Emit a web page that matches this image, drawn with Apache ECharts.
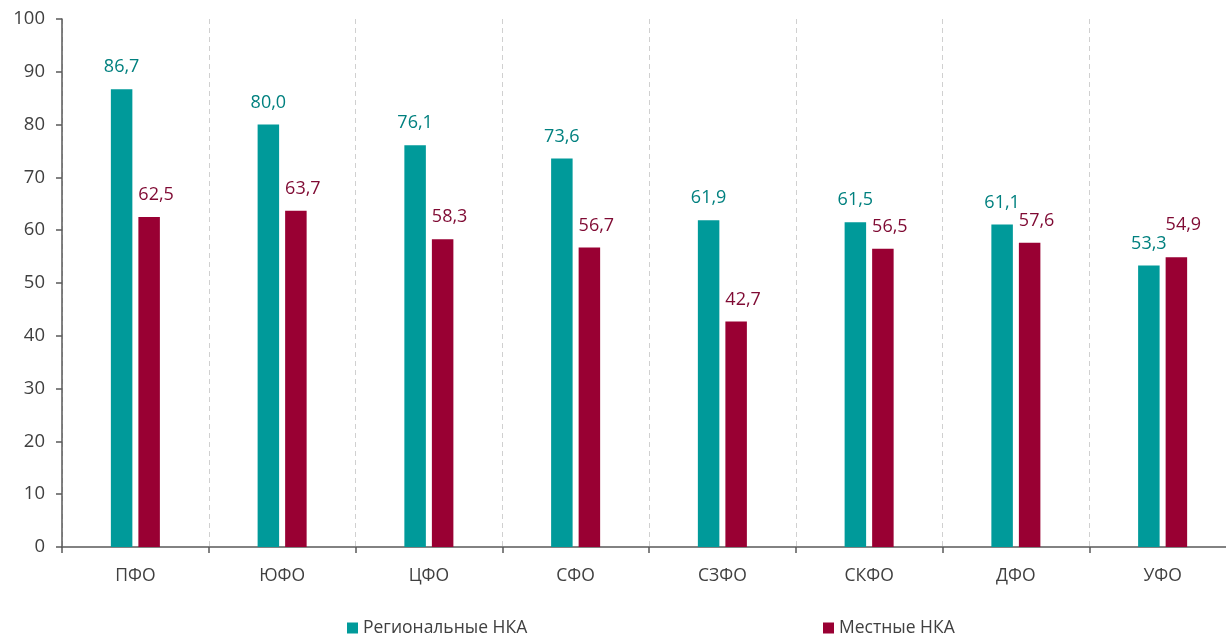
<!DOCTYPE html>
<html><head><meta charset="utf-8">
<script src="https://cdn.jsdelivr.net/npm/echarts@6/dist/echarts.min.js"></script>
<style>html,body{margin:0;padding:0;background:#fff;overflow:hidden}#c{width:1238px;height:634px}</style>
</head><body><div id="c"></div>
<script>
const categories = ['ПФО','ЮФО','ЦФО','СФО','СЗФО','СКФО','ДФО','УФО'];
const regional = [86.7, 80.0, 76.1, 73.6, 61.9, 61.5, 61.1, 53.3];
const local = [62.5, 63.7, 58.3, 56.7, 42.7, 56.5, 57.6, 54.9];
const seriesNames = ['Региональные НКА', 'Местные НКА'];
const yTicks = {min: 0, max: 100, interval: 10};

const FONT = '"Open Sans", sans-serif';
const fmt = p => p.value.toFixed(1).replace('.', ',');
// the last red label is lifted to avoid colliding with its neighbour (as in the original)
const localData = local.map((v, i) => i === local.length - 1 ? {value: v, label: {offset: [7, -10]}} : v);
const chart = echarts.init(document.getElementById('c'));
chart.setOption({
  animation: false,
  textStyle: {fontFamily: FONT},
  grid: {left: 62, width: 1174, top: 19, height: 528, containLabel: false},
  legend: [
    {data: [seriesNames[0]], left: 342, top: 614, itemWidth: 11, itemHeight: 11, icon: 'rect',
     textStyle: {fontFamily: FONT, fontSize: 17.5, color: '#404040'}},
    {data: [seriesNames[1]], left: 818, top: 614, itemWidth: 11, itemHeight: 11, icon: 'rect',
     textStyle: {fontFamily: FONT, fontSize: 17.5, color: '#404040'}}
  ],
  xAxis: {
    type: 'category', data: categories,
    axisLine: {lineStyle: {color: '#595959', width: 1.5}},
    axisTick: {show: true, length: 6, lineStyle: {color: '#595959', width: 1.5}},
    axisLabel: {color: '#404040', fontSize: 17.5, margin: 20, fontFamily: FONT},
    splitLine: {show: true, lineStyle: {color: '#d0d0d0', type: [5, 4], width: 1}}
  },
  yAxis: {
    type: 'value', min: yTicks.min, max: yTicks.max, interval: yTicks.interval,
    axisLine: {show: true, lineStyle: {color: '#595959', width: 1.5}},
    axisTick: {show: true, length: 6, lineStyle: {color: '#595959', width: 1.5}},
    axisLabel: {color: '#404040', fontSize: 18.5, margin: 17, fontFamily: FONT},
    splitLine: {show: false}
  },
  series: [
    {name: seriesNames[0], type: 'bar', data: regional, barWidth: 21.5, barGap: '28%',
     itemStyle: {color: '#009A9A'},
     label: {show: true, position: 'top', distance: 13, formatter: fmt, color: '#00807F', fontSize: 18, fontFamily: FONT}},
    {name: seriesNames[1], type: 'bar', data: localData, barWidth: 21.5,
     itemStyle: {color: '#990033'},
     label: {show: true, position: 'top', distance: 13, offset: [7, 0], formatter: fmt, color: '#7F0A33', fontSize: 18, fontFamily: FONT}}
  ]
});
</script></body></html>
